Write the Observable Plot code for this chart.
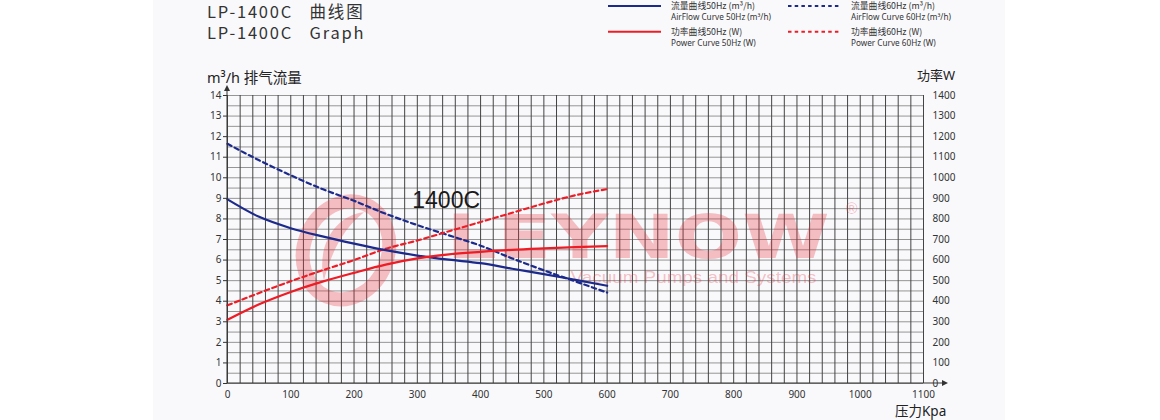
<!DOCTYPE html>
<html>
<head>
<meta charset="utf-8">
<script src="https://cdn.jsdelivr.net/npm/d3@7"></script>
<script src="https://cdn.jsdelivr.net/npm/@observablehq/plot@0.6"></script>
<style>
  html, body { margin: 0; padding: 0; background: #ffffff; }
  body { width: 1160px; height: 420px; position: relative; overflow: hidden; font-family: "Noto Sans", "Noto Sans CJK SC", sans-serif; color: #333; }
  #panel { position: absolute; left: 153px; top: 0; width: 852px; height: 420px; background: #f9f9fc; }
  #chart { position: absolute; left: 153px; top: 0; }
  .title { position: absolute; left: 207px; font-family: "Noto Sans CJK SC", "Noto Sans", sans-serif; font-size: 16.5px; letter-spacing: 1.8px; color: #333; white-space: pre; line-height: 20px; }
  .alabel { position: absolute; font-family: "Noto Sans", "Noto Sans CJK SC", sans-serif; color: #222; white-space: pre; line-height: 16px; }
  #legend { position: absolute; left: 0; top: 0; }
</style>
</head>
<body>
<div id="panel"></div>
<div class="title" style="top:1px">LP-1400C   曲线图</div>
<div class="title" style="top:22px">LP-1400C   Graph</div>
<svg id="legend" width="1160" height="50"></svg>
<div id="chart"></div>
<div class="alabel" style="left:207px;top:69px;font-size:14.5px">m³/h <span style="font-family:'Noto Sans CJK SC'">排气流量</span></div>
<div class="alabel" style="left:917px;top:67px;font-size:13px"><span style="font-family:'Noto Sans CJK SC'">功率</span>W</div>
<div class="alabel" style="left:895px;top:402px;font-size:13.5px"><span style="font-family:'Noto Sans CJK SC'">压力</span>Kpa</div>
<script>
// ---- data ----
const pressure = [0, 50, 100, 150, 200, 250, 300, 350, 400, 450, 500, 550, 600];          // kPa
const flow50   = [8.95, 8.1, 7.55, 7.15, 6.8, 6.48, 6.22, 6.02, 5.85, 5.58, 5.32, 5.04, 4.75]; // m³/h
const flow60   = [11.65, 10.85, 10.12, 9.45, 8.88, 8.25, 7.7, 7.2, 6.7, 6.08, 5.5, 4.96, 4.42]; // m³/h
const power50  = [310, 385, 445, 495, 538, 578, 608, 628, 640, 650, 657, 663, 668];       // W
const power60  = [380, 440, 497, 550, 600, 655, 695, 740, 785, 830, 875, 915, 945];       // W

const xTicks = [0, 100, 200, 300, 400, 500, 600, 700, 800, 900, 1000, 1100];
const xLabels = ["0", "100", "200", "300", "400", "500", "600", "700", "800", "900", "1000", "1100"];
const yTicks = [0, 1, 2, 3, 4, 5, 6, 7, 8, 9, 10, 11, 12, 13, 14];
const rightLabels = ["0", "100", "200", "300", "400", "500", "600", "700", "800", "900", "1000", "1100", "1200", "1300", "1400"];
const gridXValues = d3.range(0, 1101, 20);
const gridYValues = d3.range(0, 14.01, 0.5);

const modelLabel = [{p: 292, v: 8.9, t: "1400C"}];

const legendNames = ["流量曲线50Hz (m³/h)", "流量曲线60Hz (m³/h)", "功率曲线50Hz (W)", "功率曲线60Hz (W)"];
const legendSubs  = ["AirFlow Curve 50Hz (m³/h)", "AirFlow Curve 60Hz (m³/h)", "Power Curve 50Hz (W)", "Power Curve 60Hz (W)"];

// ---- styling ----
const BLUE = "#1c2a8c";
const RED = "#ee1c25";
const DASH = "4.5,3.5";
const PINK = "rgb(232,50,60)";
const PINK_OP = 0.3;

const rows = (vals, scale = 1) => pressure.map((p, i) => ({p, v: vals[i] / scale}));

function watermark(index, scales, values, dims) {
  const g = d3.create("svg:g").attr("fill", PINK).attr("fill-opacity", PINK_OP).attr("text-anchor", "start");
  const px = (v) => scales.x(v), py = (v) => scales.y(v);
  // logo ring
  const cx = px(188), cy = py(6.45);
  g.append("ellipse").attr("cx", cx).attr("cy", cy).attr("rx", 42).attr("ry", 50)
    .attr("transform", `rotate(22 ${cx} ${cy})`)
    .attr("fill", "none").attr("stroke", PINK).attr("stroke-opacity", PINK_OP).attr("stroke-width", 14);
  g.append("path")
    .attr("d", `M${cx - 22},${cy + 30} C${cx - 30},${cy - 5} ${cx - 10},${cy - 35} ${cx + 18},${cy - 38} C${cx - 2},${cy - 22} ${cx - 14},${cy} ${cx - 22},${cy + 30} Z`);
  g.append("text").attr("x", px(347)).attr("y", py(6.1)).text("LEYNOW")
    .attr("font-family", "DejaVu Sans").attr("font-weight", "bold").attr("font-size", 60)
    .attr("textLength", 383).attr("lengthAdjust", "spacingAndGlyphs");
  g.append("text").attr("x", px(543)).attr("y", py(4.87)).text("Vacuum Pumps and Systems")
    .attr("font-family", "Liberation Sans").attr("font-size", 17)
    .attr("textLength", 246).attr("lengthAdjust", "spacingAndGlyphs");
  g.append("text").attr("x", px(978)).attr("y", py(8.2)).text("®")
    .attr("font-family", "Liberation Sans").attr("font-size", 16);
  return g.node();
}

function axisLines(index, scales, values, dims) {
  const g = d3.create("svg:g").attr("stroke", "#333").attr("fill", "#333");
  const x0 = scales.x(0), x1 = scales.x(1100), y0 = scales.y(0), y1 = scales.y(14);
  g.append("line").attr("x1", x0).attr("x2", x1 + 21).attr("y1", y0).attr("y2", y0).attr("stroke-width", 1);
  g.append("path").attr("stroke", "none").attr("d", `M${x1 + 19},${y0 - 3} L${x1 + 25},${y0} L${x1 + 19},${y0 + 3} Z`);
  g.append("line").attr("x1", x0).attr("x2", x0).attr("y1", y0).attr("y2", y1 - 5).attr("stroke-width", 1);
  g.append("path").attr("stroke", "none").attr("d", `M${x0 - 3},${y1 - 4} L${x0},${y1 - 10} L${x0 + 3},${y1 - 4} Z`);
  return g.node();
}

const chart = Plot.plot({
  width: 852,
  height: 420,
  marginLeft: 74,
  marginRight: 82,
  marginTop: 95,
  marginBottom: 37,
  x: {domain: [0, 1100]},
  y: {domain: [0, 14]},
  style: {background: "transparent", fontFamily: "'Noto Sans', sans-serif", fontSize: "10px", color: "#333", overflow: "visible"},
  marks: [
    Plot.gridY({ticks: gridYValues, stroke: "#959595", strokeOpacity: 1, strokeWidth: 1}),
    Plot.gridX({ticks: gridXValues, stroke: "#444", strokeOpacity: 1, strokeWidth: 1}),
    watermark,
    Plot.line(rows(flow60), {x: "p", y: "v", stroke: BLUE, strokeWidth: 2.2, strokeDasharray: DASH, curve: "monotone-x"}),
    Plot.line(rows(power60, 100), {x: "p", y: "v", stroke: RED, strokeWidth: 2.2, strokeDasharray: DASH, curve: "monotone-x"}),
    Plot.line(rows(flow50), {x: "p", y: "v", stroke: BLUE, strokeWidth: 2.2, curve: "monotone-x"}),
    Plot.line(rows(power50, 100), {x: "p", y: "v", stroke: RED, strokeWidth: 2.2, curve: "monotone-x"}),
    Plot.text(modelLabel, {x: "p", y: "v", text: "t", textAnchor: "start", lineAnchor: "middle", fontSize: 23, fontFamily: "Liberation Sans", fill: "#1a1a1a"}),
    Plot.axisX({ticks: xTicks, tickSize: 0, tickPadding: 7, label: null,
      tickFormat: (d) => xLabels[xTicks.indexOf(d)]}),
    Plot.axisY({anchor: "left", ticks: yTicks, tickSize: 4, tickPadding: 2, label: null}),
    Plot.axisY({anchor: "right", ticks: yTicks, tickSize: 0, tickPadding: 9, label: null,
      tickFormat: (d) => rightLabels[yTicks.indexOf(d)]}),
    axisLines
  ]
});
document.getElementById("chart").appendChild(chart);

// ---- legend ----
const leg = d3.select("#legend");
const legCols = [608, 788];
const legRows = [6, 31.7];
const legColors = [BLUE, BLUE, RED, RED];
legendNames.forEach((name, i) => {
  const col = i % 2, row = Math.floor(i / 2);
  const lx = legCols[col], ly = legRows[row];
  leg.append("line").attr("x1", lx).attr("x2", lx + 53).attr("y1", ly).attr("y2", ly)
    .attr("stroke", legColors[i]).attr("stroke-width", 2)
    .attr("stroke-dasharray", col === 1 ? "3.5,3.2" : null);
  leg.append("text").attr("x", lx + 63).attr("y", ly).attr("dy", "0.35em").text(name)
    .attr("font-family", "'Noto Sans CJK SC', 'Noto Sans', sans-serif").attr("font-size", 8.8).attr("fill", "#333");
  leg.append("text").attr("x", lx + 63).attr("y", ly + 11.5).attr("dy", "0.35em").text(legendSubs[i])
    .attr("font-family", "'Noto Sans', sans-serif").attr("font-size", 8.2).attr("fill", "#333");
});
</script>
</body>
</html>
